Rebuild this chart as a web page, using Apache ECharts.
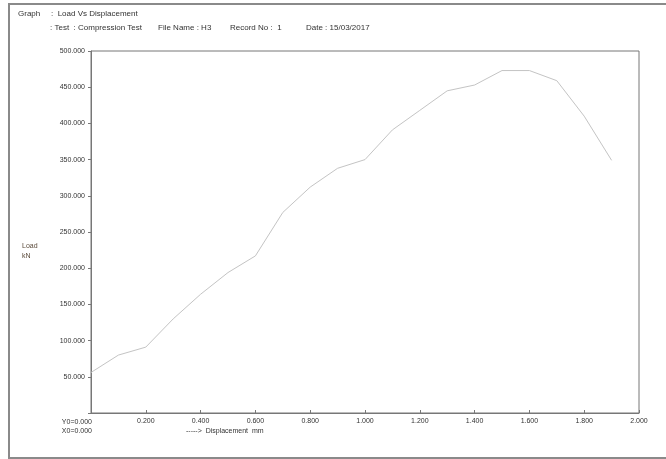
<!DOCTYPE html>
<html>
<head>
<meta charset="utf-8">
<script src="https://cdn.jsdelivr.net/npm/echarts@6/dist/echarts.min.js"></script>
<style>
  html, body { margin: 0; padding: 0; background: #fff; }
  #chart { width: 666px; height: 459px; }
</style>
</head>
<body>
<div id="chart"></div>
<script>
// Load vs displacement readings from the compression test (record 1, file H3)
const displacement = [0.0, 0.1, 0.2, 0.3, 0.4, 0.5, 0.6, 0.7, 0.8, 0.9,
                      1.0, 1.1, 1.2, 1.3, 1.4, 1.5, 1.6, 1.7, 1.8, 1.9];
const load = [56, 80, 91, 130, 164, 194, 217, 277, 312, 338,
              350, 391, 418, 445, 453, 473, 473, 459, 410, 349];

const xTickStep = 0.2;
const yTickStep = 50;
const xRange = [0, 2];
const yRange = [0, 500];

const FONT = '"Liberation Sans", Arial, sans-serif';
const TEXT = '#333';

const chart = echarts.init(document.getElementById('chart'), null, { renderer: 'canvas' });

// text placed by its top edge
const label = (x, y, s, size, color) => ({
  type: 'text', left: x, top: y,
  style: { text: s, font: size + 'px ' + FONT, fill: color || TEXT }
});

chart.setOption({
  animation: false,
  backgroundColor: '#fff',
  grid: {
    left: 91, top: 51, right: 27, bottom: 46,
    show: true, borderColor: '#777', borderWidth: 1
  },
  xAxis: {
    type: 'value',
    min: xRange[0], max: xRange[1], interval: xTickStep,
    axisLine: { show: true, lineStyle: { color: '#777', width: 1 } },
    axisTick: { show: true, inside: true, length: 3, lineStyle: { color: '#777' } },
    splitLine: { show: false },
    axisLabel: {
      margin: 5, fontSize: 7, fontFamily: FONT, color: TEXT,
      formatter: v => (v === 0 ? '' : v.toFixed(3))
    }
  },
  yAxis: {
    type: 'value',
    min: yRange[0], max: yRange[1], interval: yTickStep,
    axisLine: { show: true, lineStyle: { color: '#777', width: 1 } },
    axisTick: { show: true, inside: false, length: 3, lineStyle: { color: '#777' } },
    splitLine: { show: false },
    axisLabel: {
      margin: 6, fontSize: 7, fontFamily: FONT, color: TEXT,
      formatter: v => (v === 0 ? '' : v.toFixed(3))
    }
  },
  series: [{
    type: 'line',
    data: displacement.map((d, i) => [d, load[i]]),
    showSymbol: false,
    lineStyle: { color: '#c4c4c4', width: 1 },
    silent: true
  }],
  graphic: [
    {
      type: 'polyline', silent: true,
      shape: { points: [[666, 4], [9, 4], [9, 458], [666, 458]] },
      style: { stroke: '#8a8a8a', lineWidth: 2, fill: null }
    },
    label(18, 10, 'Graph', 8),
    label(51, 10, ':  Load Vs Displacement', 8),
    label(50, 24, ': Test  : Compression Test', 8),
    label(158, 24, 'File Name : H3', 8),
    label(230, 24, 'Record No :  1', 8),
    label(306, 24, 'Date : 15/03/2017', 8),
    label(22, 243, 'Load', 7, '#5a4a3a'),
    label(22, 253, 'kN', 7, '#5a4a3a'),
    {
      type: 'text', right: 666 - 92, top: 419,
      style: { text: 'Y0=0.000', font: '7px ' + FONT, fill: TEXT }
    },
    {
      type: 'text', right: 666 - 92, top: 428,
      style: { text: 'X0=0.000', font: '7px ' + FONT, fill: TEXT }
    },
    label(186, 428, '----->  Displacement  mm', 7)
  ]
});
</script>
</body>
</html>
